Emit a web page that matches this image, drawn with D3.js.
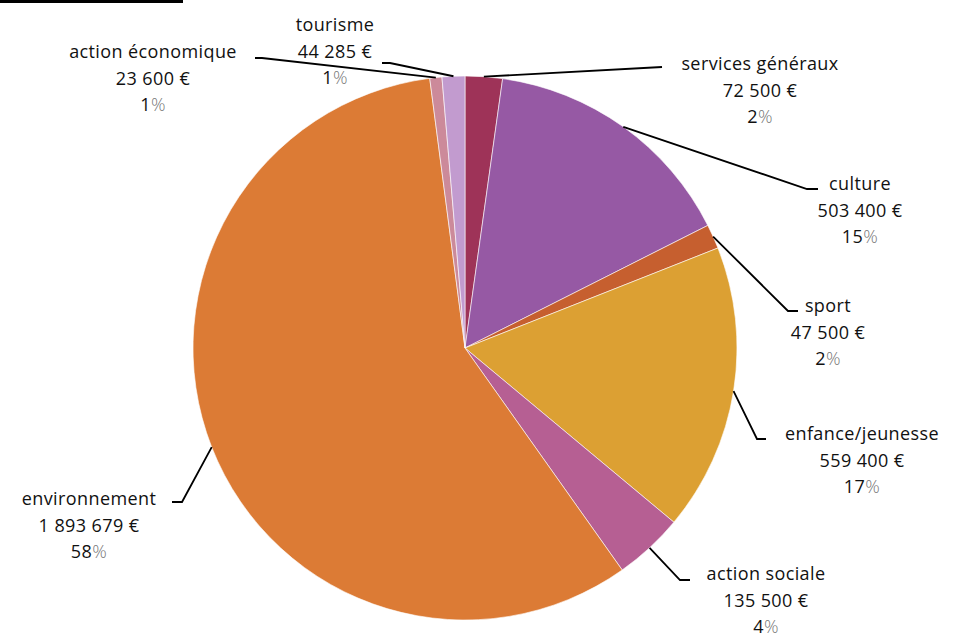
<!DOCTYPE html>
<html>
<head>
<meta charset="utf-8">
<script src="https://cdn.jsdelivr.net/npm/d3@7"></script>
<style>
  body { margin: 0; background: #fff; }
  text { font-family: "Open Sans", "DejaVu Sans", sans-serif; font-size: 18px; letter-spacing: 0.4px; fill: #111; }
</style>
</head>
<body>
<div id="chart"></div>
<script>
// data
var categories = ["services généraux", "culture", "sport", "enfance/jeunesse",
                  "action sociale", "environnement", "action économique", "tourisme"];
var amounts = [72500, 503400, 47500, 559400, 135500, 1893679, 23600, 44285];
var amountLabels = ["72 500 €", "503 400 €", "47 500 €", "559 400 €",
                    "135 500 €", "1 893 679 €", "23 600 €", "44 285 €"];
var percentLabels = ["2", "15", "2", "17", "4", "58", "1", "1"];
var colors = ["#9e3358", "#9659a4", "#c65f2f", "#dca033",
              "#b65f93", "#dc7b35", "#cc8a9a", "#c29bcf"];

// label layout: text centre x, first baseline y, leader elbow + end
var layout = {
  "services généraux": {x: 760, y: 70, pts: [[662, 67]]},
  "culture":           {x: 860, y: 190, pts: [[807, 189], [818, 189]]},
  "sport":             {x: 828, y: 312, pts: [[788, 311], [798, 311]]},
  "enfance/jeunesse":  {x: 862, y: 440, pts: [[757, 439], [766, 439]]},
  "action sociale":    {x: 766, y: 580, pts: [[680, 580], [690, 580]]},
  "environnement":     {x: 89, y: 505, pts: [[182, 502], [172, 502]]},
  "action économique": {x: 153, y: 58, pts: [[262, 58], [255, 58]]},
  "tourisme":          {x: 335, y: 31, pts: [[390, 63], [382, 63]]}
};

var width = 957, height = 633,
    cx = 465, cy = 348, radius = 272, lineGap = 26.5;

var svg = d3.select("#chart").append("svg")
    .attr("width", width)
    .attr("height", height);

// little black bar in the top left corner
svg.append("rect")
    .attr("x", 0).attr("y", 0)
    .attr("width", 183).attr("height", 3)
    .attr("fill", "#000");

var data = categories.map(function(c, i){
  return {name: c, value: amounts[i], amount: amountLabels[i], pct: percentLabels[i], color: colors[i]};
});

var pie = d3.pie().sort(null).value(function(d){ return d.value; });
var arc = d3.arc().innerRadius(0).outerRadius(radius);
var arcs = pie(data);

var g = svg.append("g").attr("transform", "translate(" + cx + "," + cy + ")");

g.selectAll("path.slice")
  .data(arcs)
  .enter().append("path")
    .attr("class", "slice")
    .attr("d", arc)
    .attr("fill", function(d){ return d.data.color; })
    .attr("stroke", "#fff")
    .attr("stroke-width", 0.6);

// leader lines
var line = d3.line();
svg.selectAll("path.leader")
  .data(arcs)
  .enter().append("path")
    .attr("class", "leader")
    .attr("fill", "none")
    .attr("stroke", "#000")
    .attr("stroke-width", 1.8)
    .attr("d", function(d){
      var a = (d.startAngle + d.endAngle) / 2;
      var start = [cx + radius * Math.sin(a), cy - radius * Math.cos(a)];
      return line([start].concat(layout[d.data.name].pts));
    });

// labels
var labels = svg.selectAll("text.label")
  .data(arcs)
  .enter().append("text")
    .attr("class", "label")
    .attr("text-anchor", "middle")
    .attr("x", function(d){ return layout[d.data.name].x; })
    .attr("y", function(d){ return layout[d.data.name].y; });

labels.append("tspan")
    .text(function(d){ return d.data.name; });
labels.append("tspan")
    .attr("x", function(d){ return layout[d.data.name].x; })
    .attr("dy", lineGap)
    .text(function(d){ return d.data.amount; });
var pctLine = labels.append("tspan")
    .attr("x", function(d){ return layout[d.data.name].x; })
    .attr("dy", lineGap)
    .text(function(d){ return d.data.pct; });
pctLine.append("tspan")
    .style("fill", "#777")
    .style("font-weight", 300)
    .text("%");
</script>
</body>
</html>
